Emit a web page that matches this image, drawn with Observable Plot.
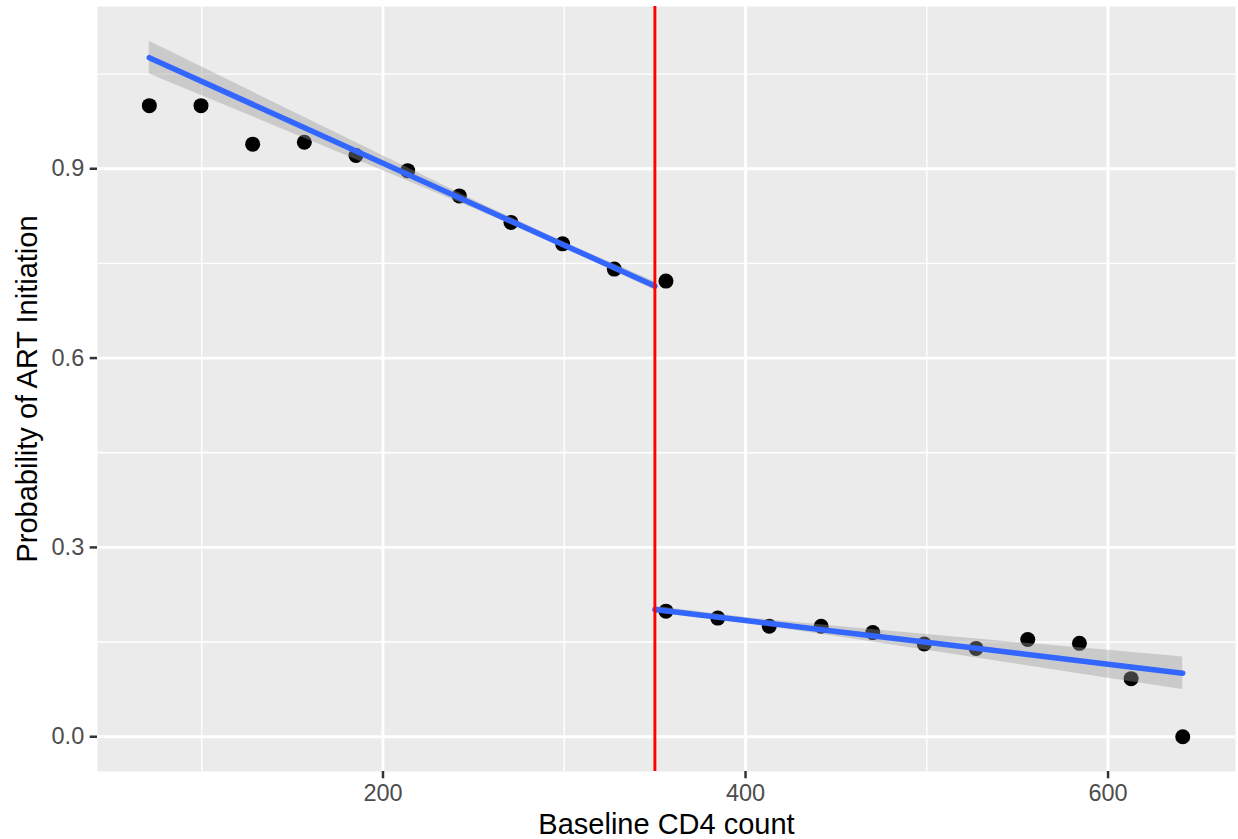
<!DOCTYPE html>
<html>
<head>
<meta charset="utf-8">
<script src="https://cdn.jsdelivr.net/npm/d3@7"></script>
<script src="https://cdn.jsdelivr.net/npm/@observablehq/plot@0.6"></script>
<style>
  html, body { margin: 0; padding: 0; background: #ffffff; }
  #chart svg { display: block; }
</style>
</head>
<body>
<div id="chart"></div>
<script>
// Binned means of ART initiation by baseline CD4 count
const binCD4 = [71.1, 99.6, 128.1, 156.6, 185.1, 213.6, 242.1, 270.6, 299.1, 327.6, 356.1,
                356.1, 384.7, 413.1, 441.7, 470.2, 498.6, 527.2, 555.7, 584.2, 612.7, 641.2];
const binProb = [1.0, 1.0, 0.939, 0.942, 0.921, 0.897, 0.857, 0.815, 0.781, 0.741, 0.722,
                 0.199, 0.188, 0.175, 0.175, 0.165, 0.147, 0.140, 0.154, 0.148, 0.092, 0.0];

// Linear fit below the 350 cutoff, with its confidence band
const leftX   = [71.06, 150, 200, 250, 300, 350];
const leftFit = [1.076, 0.9736, 0.9087, 0.8438, 0.7789, 0.7141];
const leftLo  = [1.050, 0.9564, 0.8969, 0.8370, 0.7744, 0.7073];
const leftHi  = [1.102, 0.9908, 0.9205, 0.8506, 0.7834, 0.7209];

// Linear fit above the cutoff
const rightX   = [350, 400, 450, 500, 550, 600, 641.2];
const rightFit = [0.2016, 0.1843, 0.1669, 0.1496, 0.1322, 0.1149, 0.1006];
const rightLo  = [0.1966, 0.1798, 0.1589, 0.1371, 0.1150, 0.0927, 0.0748];
const rightHi  = [0.2066, 0.1888, 0.1749, 0.1621, 0.1494, 0.1371, 0.1264];

const cutoff = 350;

const xMajor = [200, 400, 600];
const xMinor = [100, 300, 500];
const yMajor = [0, 0.3, 0.6, 0.9];
const yMinor = [0.15, 0.45, 0.75, 1.05];

const bins = binCD4.map((x, i) => ({x, y: binProb[i]}));
const fitTable = (xs, fit, lo, hi) => xs.map((x, i) => ({x, fit: fit[i], lo: lo[i], hi: hi[i]}));
const leftBand = fitTable(leftX, leftFit, leftLo, leftHi);
const rightBand = fitTable(rightX, rightFit, rightLo, rightHi);

const tickFont = 23.5;
const titleFont = 29;

const chart = Plot.plot({
  width: 1238,
  height: 839,
  marginLeft: 97,
  marginRight: 3,
  marginTop: 6,
  marginBottom: 68,
  style: {fontFamily: "'Liberation Sans', Arial, sans-serif", background: "#ffffff"},
  x: {domain: [42.5, 670.3]},
  y: {domain: [-0.0551, 1.1571]},
  marks: [
    Plot.frame({fill: "#EBEBEB"}),
    Plot.gridX(xMinor, {stroke: "#ffffff", strokeOpacity: 1, strokeWidth: 1.4}),
    Plot.gridY(yMinor, {stroke: "#ffffff", strokeOpacity: 1, strokeWidth: 1.4}),
    Plot.gridX(xMajor, {stroke: "#ffffff", strokeOpacity: 1, strokeWidth: 2.85}),
    Plot.gridY(yMajor, {stroke: "#ffffff", strokeOpacity: 1, strokeWidth: 2.85}),
    Plot.axisX(xMajor, {tickSize: 7.3, tickPadding: 6, fontSize: tickFont, fill: "#4D4D4D",
      stroke: "#333333", strokeWidth: 2.5, tickFormat: d3.format("d"), label: null}),
    Plot.axisY(yMajor, {tickSize: 7.3, tickPadding: 6, fontSize: tickFont, fill: "#4D4D4D",
      stroke: "#333333", strokeWidth: 2.5, tickFormat: d3.format(".1f"), label: null}),
    Plot.dot(bins, {x: "x", y: "y", r: 7.5, fill: "#000000", stroke: null}),
    Plot.areaY(leftBand, {x: "x", y1: "lo", y2: "hi", fill: "#999999", fillOpacity: 0.4}),
    Plot.line(leftBand, {x: "x", y: "fit", stroke: "#3366FF", strokeWidth: 5.5}),
    Plot.areaY(rightBand, {x: "x", y1: "lo", y2: "hi", fill: "#999999", fillOpacity: 0.4}),
    Plot.line(rightBand, {x: "x", y: "fit", stroke: "#3366FF", strokeWidth: 5.5}),
    Plot.ruleX([cutoff], {stroke: "#FF0000", strokeWidth: 2.9}),
    Plot.text(["Baseline CD4 count"], {frameAnchor: "bottom", lineAnchor: "bottom", dy: 62,
      fontSize: titleFont, fill: "#000000"}),
    Plot.text(["Probability of ART Initiation"], {frameAnchor: "left", textAnchor: "middle",
      lineAnchor: "bottom", rotate: -90, dx: -61, fontSize: titleFont, fill: "#000000"})
  ]
});

document.getElementById("chart").appendChild(chart);
</script>
</body>
</html>
